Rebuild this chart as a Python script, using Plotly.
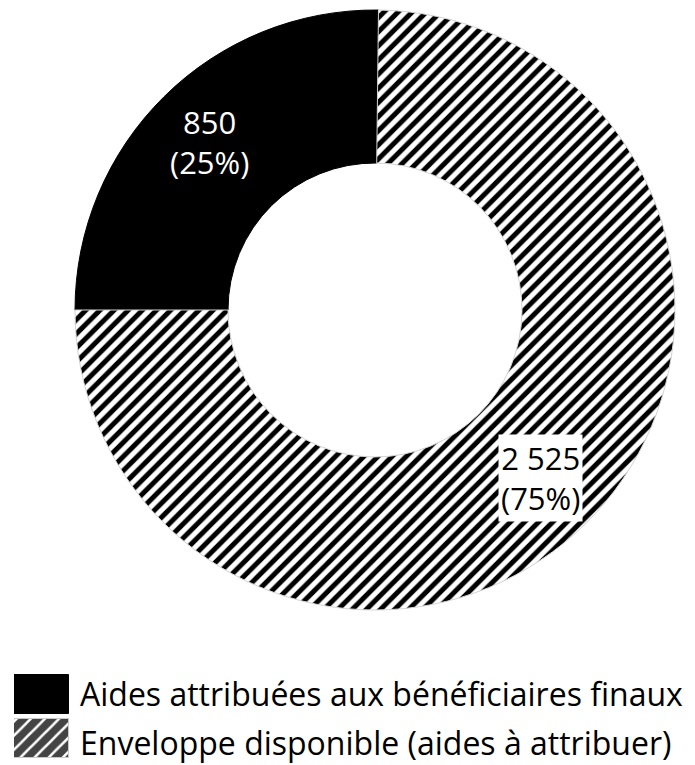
import math
import plotly.graph_objects as go

# Budget split (values in thousands)
labels = ["Aides attribuées aux bénéficiaires finaux", "Enveloppe disponible (aides à attribuer)"]
values = [850, 2525]
patterns = ["", "/"]
fills = ["black", "white"]

W, H = 695, 765
FONT = "Open Sans, Noto Sans, sans-serif"
HATCH = dict(shape=patterns, fgcolor="black", bgcolor="white", size=10, solidity=0.5)
SWATCH_HATCH = dict(shape=patterns, fgcolor="black", bgcolor="white",
                    fgopacity=1, size=10, solidity=0.75)

total = sum(values)
shares = [v / total for v in values]


def fmt_int(v):
    return f"{v:,}".replace(",", " ")


fig = go.Figure()

# Donut: first slice runs clockwise from 9 o'clock up to 12 o'clock
fig.add_trace(go.Pie(
    labels=labels,
    values=values,
    sort=False,
    direction="clockwise",
    rotation=270,
    hole=0.49,
    marker=dict(
        colors=fills,
        line=dict(color=["black", "#d4d4d4"], width=1),
        pattern=HATCH,
    ),
    textinfo="none",
    hoverinfo="label+value+percent",
    showlegend=False,
    domain=dict(x=[75 / W, 675 / W], y=[1 - 610 / H, 1 - 10 / H]),
))

# Slice labels: value and share, placed on each slice's bisector
cx, cy, r_mid = 375, 310, 236
label_style = [
    dict(color="white", bg="rgba(0,0,0,0)"),
    dict(color="black", bg="white"),
]
start = 270.0  # degrees clockwise from 12 o'clock
for i, (v, s) in enumerate(zip(values, shares)):
    mid = math.radians(start + s * 360 / 2)
    px = cx + r_mid * math.sin(mid)
    py = cy - r_mid * math.cos(mid)
    start += s * 360
    fig.add_annotation(
        x=px / W, y=1 - py / H, xref="paper", yref="paper",
        text=f"{fmt_int(v)}<br>({s:.0%})",
        showarrow=False,
        font=dict(family=FONT, size=31, color=label_style[i]["color"]),
        bgcolor=label_style[i]["bg"], borderpad=2,
        xanchor="center", yanchor="middle",
    )

# Legend swatches drawn as bars so they can carry the hatch pattern
fig.add_trace(go.Bar(
    x=[1, 1],
    y=[1, 0],
    orientation="h",
    width=0.87,
    marker=dict(
        color=fills,
        opacity=1,
        line=dict(color=["black", "#c8c8c8"], width=1),
        pattern=SWATCH_HATCH,
    ),
    hoverinfo="skip",
    showlegend=False,
    xaxis="x2", yaxis="y2",
))

fig.update_layout(
    xaxis2=dict(domain=[14 / W, 69 / W], range=[0, 1], visible=False, fixedrange=True),
    yaxis2=dict(domain=[1 - 761 / H, 1 - 672 / H], range=[-0.5, 1.5], visible=False, fixedrange=True),
)

# Legend texts
for i, lab in enumerate(labels):
    fig.add_annotation(
        x=78 / W, y=1 - (693 + 49 * i) / H, xref="paper", yref="paper",
        text=lab, showarrow=False,
        font=dict(family=FONT, size=32, color="black"),
        xanchor="left", yanchor="middle",
    )

fig.update_layout(
    width=W, height=H,
    margin=dict(l=0, r=0, t=0, b=0),
    paper_bgcolor="white",
    plot_bgcolor="white",
    showlegend=False,
    bargap=0,
)

fig.write_html("out.html")
